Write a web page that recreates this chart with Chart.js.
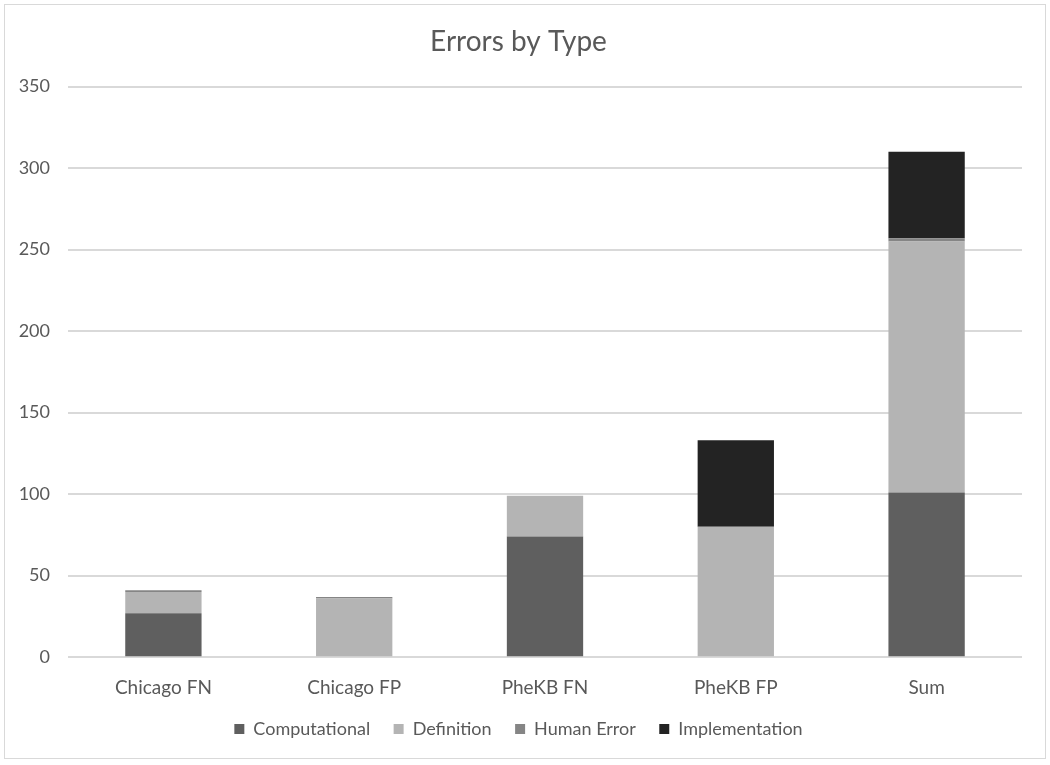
<!DOCTYPE html>
<html lang="en">
<head>
  <meta charset="UTF-8" />
  <title>Errors by Type</title>
  <script src="https://cdn.jsdelivr.net/npm/chart.js"></script>
  <style>
    html, body { margin: 0; padding: 0; background: #fff; }
    .frame {
      position: absolute; left: 4px; top: 4px;
      width: 1040px; height: 753px;
      border: 1px solid #d9d9d9;
    }
  </style>
</head>
<body>
  <div class="frame">
    <canvas id="errorsChart" width="1040" height="753"></canvas>
  </div>

  <script>
    // categories and series
    const categories = ['Chicago FN', 'Chicago FP', 'PheKB FN', 'PheKB FP', 'Sum'];
    const computational = [27, 0, 74, 0, 101];
    const definition = [13, 36, 25, 80, 154];
    const humanError = [1, 1, 0, 0, 2];
    const implementation = [0, 0, 0, 53, 53];
    const yTicks = [0, 50, 100, 150, 200, 250, 300, 350];

    const textColor = '#595959';
    const fontFamily = 'Lato, "Open Sans", sans-serif';

    const ctx = document.getElementById('errorsChart').getContext('2d');
    new Chart(ctx, {
      type: 'bar',
      data: {
        labels: categories,
        datasets: [
          { label: 'Computational', data: computational, backgroundColor: '#5f5f5f' },
          { label: 'Definition', data: definition, backgroundColor: '#b4b4b4' },
          { label: 'Human Error', data: humanError, backgroundColor: '#858585' },
          { label: 'Implementation', data: implementation, backgroundColor: '#232323' }
        ]
      },
      options: {
        responsive: false,
        animation: false,
        layout: { padding: { left: 10, right: 23, top: 0, bottom: 10 } },
        datasets: { bar: { barPercentage: 0.8, categoryPercentage: 0.5 } },
        plugins: {
          title: {
            display: true,
            text: 'Errors by Type',
            color: textColor,
            font: { family: fontFamily, size: 28, weight: 'normal' },
            padding: { top: 20, bottom: 28 }
          },
          legend: {
            position: 'bottom',
            labels: {
              color: textColor,
              font: { family: fontFamily, size: 18 },
              boxWidth: 10,
              boxHeight: 10,
              padding: 10,
              // wider gap between items than between rows
              generateLabels: (chart) => {
                const items = Chart.defaults.plugins.legend.labels.generateLabels(chart);
                return items.map((item, i) => ({
                  ...item,
                  text: i < items.length - 1 ? item.text + '\u2003' : item.text
                }));
              }
            }
          },
          tooltip: { enabled: false }
        },
        scales: {
          x: {
            stacked: true,
            grid: { display: false },
            border: { display: false },
            ticks: { color: textColor, font: { family: fontFamily, size: 19 }, padding: 11 }
          },
          y: {
            stacked: true,
            min: 0,
            max: 350,
            afterBuildTicks: (scale) => { scale.ticks = yTicks.map(v => ({ value: v })); },
            afterFit: (scale) => { scale.width = 53; },
            grid: { color: '#d9d9d9', lineWidth: 2, drawTicks: false },
            border: { display: false },
            ticks: { color: textColor, font: { family: fontFamily, size: 18 }, padding: 18 }
          }
        }
      }
    });
  </script>
</body>
</html>
